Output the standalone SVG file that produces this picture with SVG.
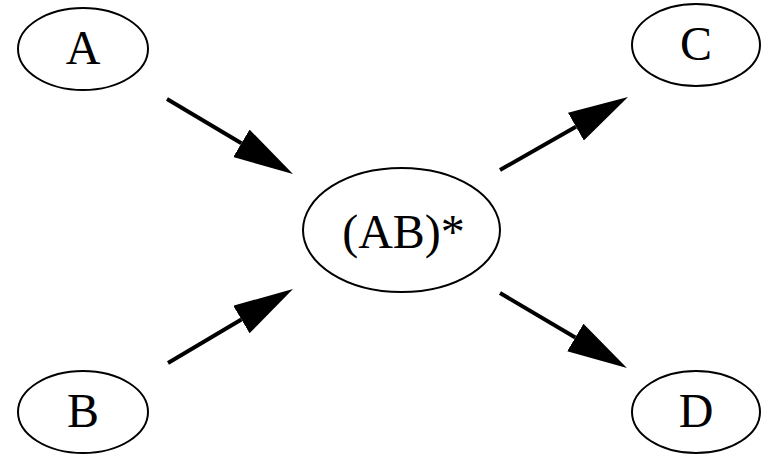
<svg xmlns="http://www.w3.org/2000/svg" width="768" height="454" viewBox="0 0 768 454">
  <style>
    .node ellipse { fill: #ffffff; stroke: #000000; stroke-width: 2; }
    .node text { font-family: "Liberation Serif", "Times New Roman", serif; font-size: 48px; fill: #000000; text-anchor: middle; }
    .edge { stroke: #000000; stroke-width: 4; fill: none; marker-end: url(#head); }
  </style>
  <defs>
    <marker id="head" markerUnits="userSpaceOnUse" markerWidth="62" markerHeight="34" refX="0" refY="16" orient="auto" viewBox="0 0 62 34">
      <path d="M0,0 L60,16 L0,32 z" fill="#000000"/>
    </marker>
  </defs>
  <rect width="768" height="454" fill="#ffffff"/>

  <g id="connectors">
    <line class="edge" x1="167" y1="99" x2="241.4" y2="143.3"/>
    <line class="edge" x1="168" y1="363" x2="241.4" y2="319.5"/>
    <line class="edge" x1="500" y1="170" x2="575.9" y2="126.7"/>
    <line class="edge" x1="500" y1="293" x2="575.3" y2="337.5"/>
  </g>

  <g id="node-A" class="node">
    <ellipse cx="83" cy="49" rx="65" ry="41"/>
    <text x="83" y="64">A</text>
  </g>
  <g id="node-B" class="node">
    <ellipse cx="83" cy="412" rx="65" ry="41"/>
    <text x="83" y="427">B</text>
  </g>
  <g id="node-AB" class="node">
    <ellipse cx="401.5" cy="230" rx="98.5" ry="62"/>
    <text x="403.5" y="248">(AB)*</text>
  </g>
  <g id="node-C" class="node">
    <ellipse cx="696" cy="45" rx="64" ry="41"/>
    <text x="696" y="60">C</text>
  </g>
  <g id="node-D" class="node">
    <ellipse cx="696" cy="412" rx="64" ry="41"/>
    <text x="696" y="427">D</text>
  </g>
</svg>
